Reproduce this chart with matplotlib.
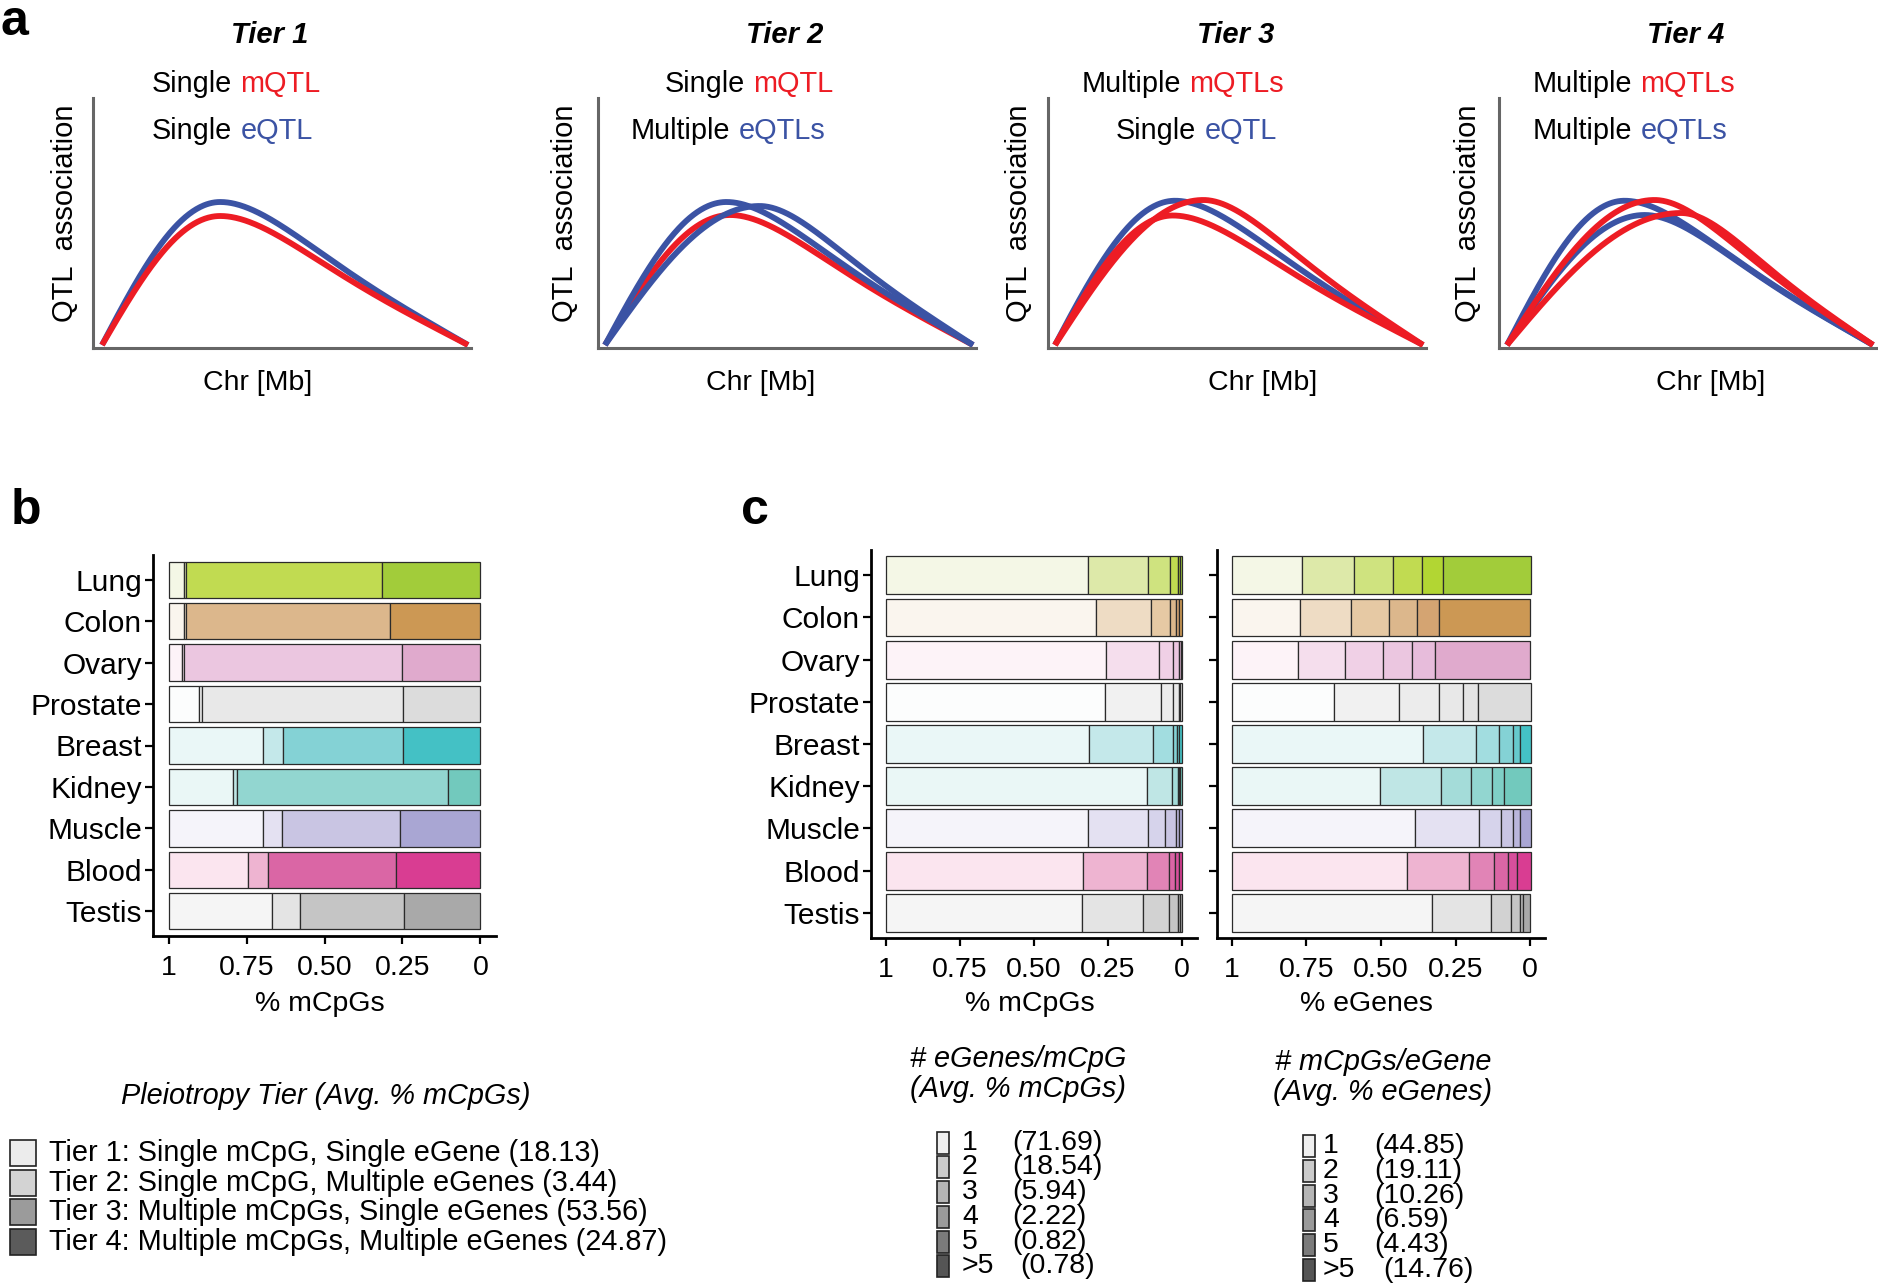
import numpy as np
import matplotlib
matplotlib.use("Agg")
import matplotlib.pyplot as plt
from matplotlib.patches import Rectangle

plt.rcParams['font.family'] = ['Liberation Sans', 'DejaVu Sans']

# ---------------- data ----------------
tissues = ["Lung", "Colon", "Ovary", "Prostate", "Breast", "Kidney", "Muscle", "Blood", "Testis"]

# panel b: fraction of mCpGs per pleiotropy tier (Tier1..Tier4)
tier1 = [0.051, 0.051, 0.044, 0.097, 0.302, 0.205, 0.304, 0.256, 0.333]
tier2 = [0.005, 0.004, 0.004, 0.011, 0.064, 0.013, 0.060, 0.063, 0.090]
tier3 = [0.628, 0.656, 0.700, 0.644, 0.386, 0.678, 0.379, 0.410, 0.332]
tier4 = [0.316, 0.289, 0.252, 0.248, 0.248, 0.104, 0.257, 0.271, 0.245]

# panel c left: # eGenes per mCpG (1,2,3,4,5,>5)
eg_1 = [0.681, 0.708, 0.744, 0.741, 0.686, 0.882, 0.683, 0.666, 0.663]
eg_2 = [0.202, 0.188, 0.179, 0.186, 0.215, 0.083, 0.203, 0.215, 0.205]
eg_3 = [0.075, 0.064, 0.045, 0.043, 0.067, 0.020, 0.056, 0.076, 0.086]
eg_4 = [0.028, 0.019, 0.020, 0.018, 0.013, 0.004, 0.037, 0.019, 0.031]
eg_5 = [0.008, 0.011, 0.007, 0.004, 0.008, 0.004, 0.011, 0.013, 0.009]
eg_6 = [0.006, 0.010, 0.005, 0.008, 0.011, 0.007, 0.010, 0.011, 0.006]

# panel c right: # mCpGs per eGene (1,2,3,4,5,>5)
mc_1 = [0.235, 0.229, 0.220, 0.343, 0.640, 0.497, 0.614, 0.588, 0.671]
mc_2 = [0.175, 0.170, 0.159, 0.217, 0.178, 0.205, 0.216, 0.206, 0.198]
mc_3 = [0.131, 0.127, 0.128, 0.134, 0.079, 0.101, 0.073, 0.085, 0.067]
mc_4 = [0.095, 0.096, 0.097, 0.080, 0.047, 0.069, 0.041, 0.047, 0.031]
mc_5 = [0.073, 0.072, 0.078, 0.051, 0.022, 0.041, 0.022, 0.030, 0.010]
mc_6 = [0.293, 0.306, 0.319, 0.177, 0.036, 0.089, 0.036, 0.047, 0.024]

tier_legend = ["Tier 1: Single mCpG, Single eGene (18.13)",
               "Tier 2: Single mCpG, Multiple eGenes (3.44)",
               "Tier 3: Multiple mCpGs, Single eGenes (53.56)",
               "Tier 4: Multiple mCpGs, Multiple eGenes (24.87)"]
count_labels = ["1", "2", "3", "4", "5", ">5"]
eg_avg = ["(71.69)", "(18.54)", "(5.94)", "(2.22)", "(0.82)", "(0.78)"]
mc_avg = ["(44.85)", "(19.11)", "(10.26)", "(6.59)", "(4.43)", "(14.76)"]

xticks = [1, 0.75, 0.5, 0.25, 0]
xticklabels = ["1", "0.75", "0.50", "0.25", "0"]

# panel a: schematic QTL curves, (colour, peak position, peak height)
tier_titles = ["Tier 1", "Tier 2", "Tier 3", "Tier 4"]
m_words = ["Single", "Single", "Multiple", "Multiple"]
m_tags = ["mQTL", "mQTL", "mQTLs", "mQTLs"]
e_words = ["Single", "Multiple", "Single", "Multiple"]
e_tags = ["eQTL", "eQTLs", "eQTL", "eQTLs"]
curve_sets = [
    [("b", 0.323, 0.584), ("r", 0.323, 0.528)],
    [("r", 0.340, 0.532), ("b", 0.330, 0.584), ("b", 0.420, 0.568)],
    [("b", 0.326, 0.589), ("r", 0.320, 0.530), ("r", 0.403, 0.592)],
    [("b", 0.321, 0.589), ("b", 0.376, 0.532), ("r", 0.403, 0.592), ("r", 0.476, 0.540)],
]

# ---------------- styling ----------------
RED = "#ed1c24"
BLUE = "#3b53a4"
pal = {
    "Lung":     ['#f4f7e6', '#dde9a9', '#cfe37f', '#c1db51', '#b2d633', '#a2cc3a'],
    "Colon":    ['#faf5ee', '#eedcc4', '#e6c9a4', '#dcb78c', '#d4a472', '#cc9854'],
    "Ovary":    ['#fdf3f8', '#f5deed', '#f0d0e6', '#ebc6e0', '#e7bcdb', '#e0aacd'],
    "Prostate": ['#fcfdfd', '#f1f1f1', '#ececec', '#e8e8e8', '#e4e4e4', '#dcdcdc'],
    "Breast":   ['#eaf7f7', '#c4e8ea', '#a2dde0', '#84d2d5', '#66cacd', '#44c1c5'],
    "Kidney":   ['#eaf7f6', '#bfe6e5', '#a4dcd9', '#92d6d0', '#7fcfc6', '#72c9bd'],
    "Muscle":   ['#f5f4fa', '#e4e1f2', '#d6d3eb', '#c9c5e3', '#bab6dc', '#a9a6d3'],
    "Blood":    ['#fbe5ef', '#eeb4d1', '#e184b6', '#da66a5', '#d84f9c', '#d93d92'],
    "Testis":   ['#f5f5f5', '#e4e4e4', '#d2d2d2', '#c5c5c5', '#b8b8b8', '#a9a9a9'],
}
tier_levels = [0, 1, 3, 5]
tier_grey = ['#ececec', '#d3d3d3', '#9b9b9b', '#5b5b5b']
count_grey = ['#efefef', '#cbcbcb', '#b5b5b5', '#9a9a9a', '#7b7b7b', '#555555']

W, H = 1878, 1287
fig = plt.figure(figsize=(W / 100, H / 100), dpi=100)


def px_axes(l, t, r, b):
    return fig.add_axes([l / W, 1 - b / H, (r - l) / W, (b - t) / H])


ov = fig.add_axes([0, 0, 1, 1], zorder=10)
ov.set_xlim(0, W)
ov.set_ylim(H, 0)
ov.axis("off")


def hump(t, p):
    left = np.sin(np.pi / 2 * np.clip(t / p, 0, 1))
    u = np.clip((t - p) / (1 - p), 0, 1)
    right = (1 - u) * (1 + u * (1 - u) ** 3)
    return np.where(t <= p, left, right)


# ---------------- panel a ----------------
a_axis_x = [93, 598, 1048, 1499]
a_start = [102, 605, 1055, 1507]
a_end = [468, 973, 1423, 1873]
title_cx = [270, 785, 1236, 1686]
line1_x = [152, 665, 1082, 1533]
line2_x = [152, 631, 1116, 1533]
chr_cx = [258, 761, 1263, 1711]
qtl_cx = [65, 565, 1019, 1468]
top, bot = 98, 348
t = np.linspace(0, 1, 400)
base = 0.012
for i in range(4):
    span = a_end[i] - a_start[i]
    ax = px_axes(a_axis_x[i], top, a_end[i] + 3, bot)
    ax.set_xlim(-(a_start[i] - a_axis_x[i]) / span, (a_end[i] + 3 - a_start[i]) / span)
    ax.set_ylim(0, 1)
    for c, p, h in curve_sets[i]:
        ax.plot(t, base + (h - base) * hump(t, p), color=BLUE if c == "b" else RED,
                lw=4.2, solid_capstyle="butt", clip_on=False)
    for s in ["top", "right"]:
        ax.spines[s].set_visible(False)
    for s in ["left", "bottom"]:
        ax.spines[s].set_color("#666666")
        ax.spines[s].set_linewidth(2.2)
    ax.set_xticks([])
    ax.set_yticks([])
    ax.patch.set_alpha(0)

    ov.text(title_cx[i], 43, tier_titles[i], fontsize=21, fontweight="bold", fontstyle="italic",
            ha="center", va="baseline")
    t1 = ov.text(line1_x[i], 92, m_words[i], fontsize=20.8, ha="left", va="baseline")
    ov.annotate(m_tags[i], xy=(1, 0), xycoords=t1, xytext=(8, 0), textcoords="offset pixels",
                fontsize=20.8, color=RED, ha="left", va="bottom")
    t2 = ov.text(line2_x[i], 139, e_words[i], fontsize=20.8, ha="left", va="baseline")
    ov.annotate(e_tags[i], xy=(1, 0), xycoords=t2, xytext=(8, 0), textcoords="offset pixels",
                fontsize=20.8, color=BLUE, ha="left", va="bottom")
    ov.text(chr_cx[i], 390, "Chr [Mb]", fontsize=20.5, ha="center", va="baseline")
    ov.text(qtl_cx[i], 213, "QTL  association", fontsize=21, rotation=90, ha="center", va="center")

# ---------------- bar panels ----------------
def stacked(ax, series, levels, height, show_labels):
    y = np.arange(len(tissues))
    cum = np.zeros(len(tissues))
    for k, vals in enumerate(series):
        vals = np.asarray(vals)
        cols = [pal[tn][levels[k]] for tn in tissues]
        ax.barh(y, vals, left=1 - cum - vals, height=height, color=cols,
                edgecolor="#2b2b2b", linewidth=0.9)
        cum = cum + vals
    ax.set_xlim(1.05, -0.05)
    ax.set_ylim(len(tissues) - 0.4, -0.6)
    ax.set_yticks(y)
    ax.set_yticklabels(tissues if show_labels else [], fontsize=21.5)
    ax.set_xticks(xticks)
    ax.set_xticklabels(xticklabels, fontsize=20.5)
    ax.tick_params(axis="both", length=6, width=1.6, color="black", pad=8)
    ax.tick_params(axis="y", pad=2)
    for s in ["top", "right"]:
        ax.spines[s].set_visible(False)
    for s in ["left", "bottom"]:
        ax.spines[s].set_linewidth(2.0)
        ax.spines[s].set_color("black")


axb = px_axes(153, 555, 496, 936)
stacked(axb, [tier1, tier2, tier3, tier4], tier_levels, 0.88, True)
axc1 = px_axes(871, 550, 1197, 938)
stacked(axc1, [eg_1, eg_2, eg_3, eg_4, eg_5, eg_6], [0, 1, 2, 3, 4, 5], 0.9, True)
axc2 = px_axes(1217, 550, 1545, 938)
stacked(axc2, [mc_1, mc_2, mc_3, mc_4, mc_5, mc_6], [0, 1, 2, 3, 4, 5], 0.9, False)

ov.text(320, 1004, "% mCpGs", fontsize=20.5, ha="center", va="center")
ov.text(1030, 1004, "% mCpGs", fontsize=20.5, ha="center", va="center")
ov.text(1366, 1004, "% eGenes", fontsize=20.5, ha="center", va="center")

# panel letters
ov.text(14, 22, "a", fontsize=36, fontweight="bold", ha="center", va="center")
ov.text(26, 511, "b", fontsize=36, fontweight="bold", ha="center", va="center")
ov.text(755, 511, "c", fontsize=36, fontweight="bold", ha="center", va="center")

# ---------------- legends ----------------
ov.text(326, 1096, "Pleiotropy Tier (Avg. % mCpGs)", fontsize=20.8, fontstyle="italic",
        ha="center", va="center")
b_rows = [1153, 1183, 1212, 1242]
for k in range(4):
    ov.add_patch(Rectangle((10, b_rows[k] - 13), 26, 26, facecolor=tier_grey[k],
                           edgecolor="#222222", linewidth=1.2))
    ov.text(49, b_rows[k], tier_legend[k], fontsize=20.8, ha="left", va="center")

ov.text(1018, 1059, "# eGenes/mCpG", fontsize=20.8, fontstyle="italic", ha="center", va="center")
ov.text(1018, 1089, "(Avg. % mCpGs)", fontsize=20.8, fontstyle="italic", ha="center", va="center")
ov.text(1383, 1062, "# mCpGs/eGene", fontsize=20.8, fontstyle="italic", ha="center", va="center")
ov.text(1383, 1092, "(Avg. % eGenes)", fontsize=20.8, fontstyle="italic", ha="center", va="center")
c1_rows = [1143, 1167, 1192, 1217, 1242, 1266]
c2_rows = [1146, 1171, 1196, 1220, 1245, 1270]
for k in range(6):
    ov.add_patch(Rectangle((937, c1_rows[k] - 11), 12, 22, facecolor=count_grey[k],
                           edgecolor="#222222", linewidth=1.2))
    ov.text(962, c1_rows[k], count_labels[k], fontsize=20.5, ha="left", va="center")
    ov.text(1020 if k == 5 else 1012, c1_rows[k], eg_avg[k], fontsize=20.5, ha="left", va="center")
    ov.add_patch(Rectangle((1303, c2_rows[k] - 11), 12, 22, facecolor=count_grey[k],
                           edgecolor="#222222", linewidth=1.2))
    ov.text(1323, c2_rows[k], count_labels[k], fontsize=20.5, ha="left", va="center")
    ov.text(1383 if k == 5 else 1374, c2_rows[k], mc_avg[k], fontsize=20.5, ha="left", va="center")

fig.savefig("out.png", dpi=100)
